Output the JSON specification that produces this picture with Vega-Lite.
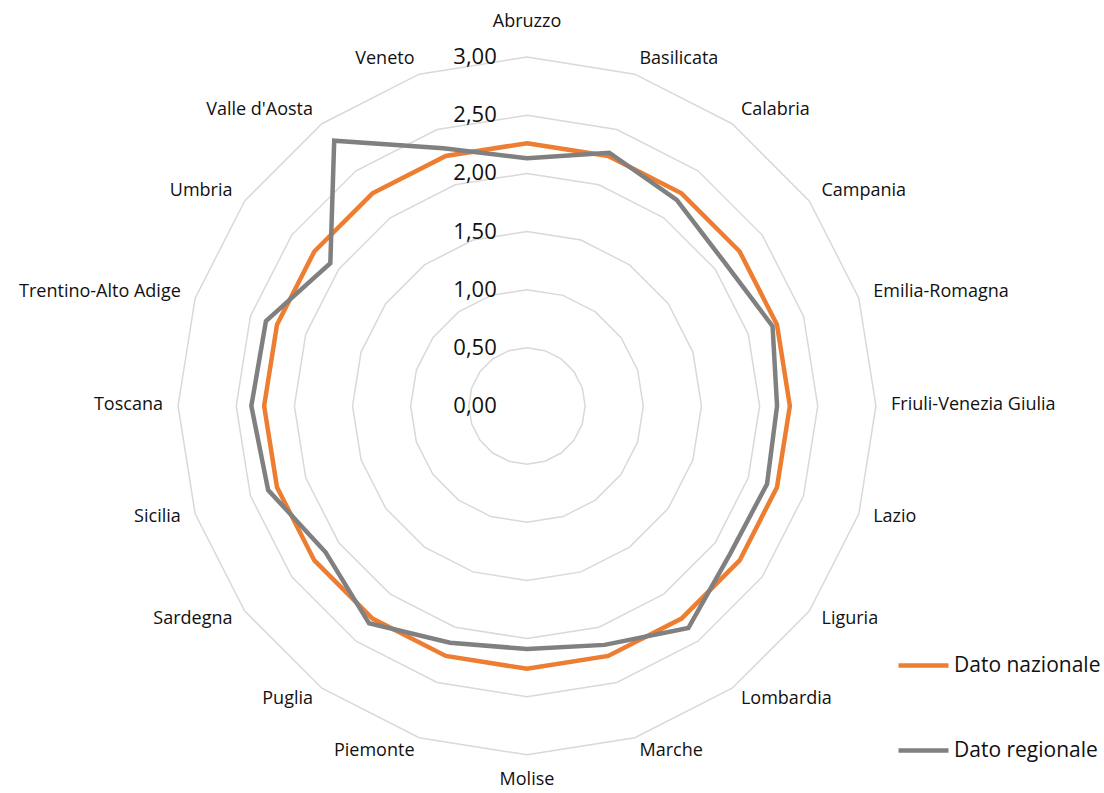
{
  "$schema": "https://vega.github.io/schema/vega-lite/v6.json",
  "width": 1104,
  "height": 793,
  "padding": 0,
  "autosize": "none",
  "background": "white",
  "config": {
    "view": {"stroke": null},
    "font": "Open Sans",
    "text": {"font": "Open Sans", "color": "#111111"},
    "legend": {
      "orient": "none",
      "legendX": 896,
      "legendY": 638,
      "symbolType": "stroke",
      "symbolSize": 2500,
      "symbolStrokeWidth": 4.5,
      "labelFontSize": 21,
      "labelFont": "Open Sans",
      "labelColor": "#111111",
      "labelOffset": 3,
      "rowPadding": 47,
      "padding": 0,
      "title": null
    }
  },
  "datasets": {
    "regioni": [
      {"regione": "Abruzzo", "i": 0, "Dato nazionale": 2.26, "Dato regionale": 2.13},
      {"regione": "Basilicata", "i": 1, "Dato nazionale": 2.26, "Dato regionale": 2.29},
      {"regione": "Calabria", "i": 2, "Dato nazionale": 2.26, "Dato regionale": 2.19},
      {"regione": "Campania", "i": 3, "Dato nazionale": 2.26, "Dato regionale": 2.10},
      {"regione": "Emilia-Romagna", "i": 4, "Dato nazionale": 2.26, "Dato regionale": 2.22},
      {"regione": "Friuli-Venezia Giulia", "i": 5, "Dato nazionale": 2.26, "Dato regionale": 2.15},
      {"regione": "Lazio", "i": 6, "Dato nazionale": 2.26, "Dato regionale": 2.17},
      {"regione": "Liguria", "i": 7, "Dato nazionale": 2.26, "Dato regionale": 2.16},
      {"regione": "Lombardia", "i": 8, "Dato nazionale": 2.26, "Dato regionale": 2.36},
      {"regione": "Marche", "i": 9, "Dato nazionale": 2.26, "Dato regionale": 2.16},
      {"regione": "Molise", "i": 10, "Dato nazionale": 2.26, "Dato regionale": 2.09},
      {"regione": "Piemonte", "i": 11, "Dato nazionale": 2.26, "Dato regionale": 2.14},
      {"regione": "Puglia", "i": 12, "Dato nazionale": 2.26, "Dato regionale": 2.31},
      {"regione": "Sardegna", "i": 13, "Dato nazionale": 2.26, "Dato regionale": 2.14},
      {"regione": "Sicilia", "i": 14, "Dato nazionale": 2.26, "Dato regionale": 2.34},
      {"regione": "Toscana", "i": 15, "Dato nazionale": 2.26, "Dato regionale": 2.37},
      {"regione": "Trentino-Alto Adige", "i": 16, "Dato nazionale": 2.26, "Dato regionale": 2.36},
      {"regione": "Umbria", "i": 17, "Dato nazionale": 2.26, "Dato regionale": 2.09},
      {"regione": "Valle d'Aosta", "i": 18, "Dato nazionale": 2.26, "Dato regionale": 2.82},
      {"regione": "Veneto", "i": 19, "Dato nazionale": 2.26, "Dato regionale": 2.33}
    ],
    "livelli": [
      {"livello": 0, "etichetta": "0,00"},
      {"livello": 0.5, "etichetta": "0,50"},
      {"livello": 1, "etichetta": "1,00"},
      {"livello": 1.5, "etichetta": "1,50"},
      {"livello": 2, "etichetta": "2,00"},
      {"livello": 2.5, "etichetta": "2,50"},
      {"livello": 3, "etichetta": "3,00"}
    ]
  },
  "layer": [
    {
      "data": {"name": "regioni"},
      "transform": [
        {"calculate": "[0.5, 1, 1.5, 2, 2.5, 3]", "as": "livello"},
        {"flatten": ["livello"]},
        {"calculate": "datum.livello * sin(datum.i * PI / 10)", "as": "gx"},
        {"calculate": "datum.livello * cos(datum.i * PI / 10)", "as": "gy"}
      ],
      "mark": {"type": "line", "interpolate": "linear-closed", "color": "#D9D9D9", "strokeWidth": 1.5},
      "encoding": {
        "x": {"field": "gx", "type": "quantitative", "scale": {"domain": [-4.531, 4.961], "nice": false, "zero": false}, "axis": null},
        "y": {"field": "gy", "type": "quantitative", "scale": {"domain": [-3.328, 3.491], "nice": false, "zero": false}, "axis": null},
        "detail": {"field": "livello", "type": "nominal"},
        "order": {"field": "i", "type": "quantitative"}
      }
    },
    {
      "data": {"name": "livelli"},
      "transform": [
        {"calculate": "-0.26", "as": "lx"}
      ],
      "mark": {"type": "text", "align": "right", "baseline": "middle", "fontSize": 22, "color": "#111111"},
      "encoding": {
        "x": {"field": "lx", "type": "quantitative", "scale": {"domain": [-4.531, 4.961], "nice": false, "zero": false}, "axis": null},
        "y": {"field": "livello", "type": "quantitative", "scale": {"domain": [-3.328, 3.491], "nice": false, "zero": false}, "axis": null},
        "text": {"field": "etichetta", "type": "nominal"}
      }
    },
    {
      "data": {"name": "regioni"},
      "transform": [
        {"fold": ["Dato nazionale", "Dato regionale"], "as": ["serie", "valore"]},
        {"calculate": "datum.valore * sin(datum.i * PI / 10)", "as": "px"},
        {"calculate": "datum.valore * cos(datum.i * PI / 10)", "as": "py"}
      ],
      "mark": {"type": "line", "interpolate": "linear-closed", "strokeWidth": 4.5, "strokeJoin": "miter"},
      "encoding": {
        "x": {"field": "px", "type": "quantitative", "scale": {"domain": [-4.531, 4.961], "nice": false, "zero": false}, "axis": null},
        "y": {"field": "py", "type": "quantitative", "scale": {"domain": [-3.328, 3.491], "nice": false, "zero": false}, "axis": null},
        "color": {"field": "serie", "type": "nominal", "scale": {"domain": ["Dato nazionale", "Dato regionale"], "range": ["#ED7D31", "#808080"]}},
        "order": {"field": "i", "type": "quantitative"}
      }
    },
    {
      "data": {"name": "regioni"},
      "transform": [
        {"filter": "datum.i >= 1 && datum.i <= 9"},
        {"calculate": "3.13 * sin(datum.i * PI / 10)", "as": "tx"},
        {"calculate": "3.13 * cos(datum.i * PI / 10)", "as": "ty"}
      ],
      "mark": {"type": "text", "align": "left", "baseline": "middle", "fontSize": 18, "dy": -1},
      "encoding": {
        "x": {"field": "tx", "type": "quantitative", "scale": {"domain": [-4.531, 4.961], "nice": false, "zero": false}, "axis": null},
        "y": {"field": "ty", "type": "quantitative", "scale": {"domain": [-3.328, 3.491], "nice": false, "zero": false}, "axis": null},
        "text": {"field": "regione", "type": "nominal"}
      }
    },
    {
      "data": {"name": "regioni"},
      "transform": [
        {"filter": "datum.i >= 11"},
        {"calculate": "3.13 * sin(datum.i * PI / 10)", "as": "tx"},
        {"calculate": "3.13 * cos(datum.i * PI / 10)", "as": "ty"}
      ],
      "mark": {"type": "text", "align": "right", "baseline": "middle", "fontSize": 18, "dy": -1},
      "encoding": {
        "x": {"field": "tx", "type": "quantitative", "scale": {"domain": [-4.531, 4.961], "nice": false, "zero": false}, "axis": null},
        "y": {"field": "ty", "type": "quantitative", "scale": {"domain": [-3.328, 3.491], "nice": false, "zero": false}, "axis": null},
        "text": {"field": "regione", "type": "nominal"}
      }
    },
    {
      "data": {"name": "regioni"},
      "transform": [
        {"filter": "datum.i == 0 || datum.i == 10"},
        {"calculate": "datum.i == 0 ? 3.305 : -3.22", "as": "ty"},
        {"calculate": "0", "as": "tx"}
      ],
      "mark": {"type": "text", "align": "center", "baseline": "middle", "fontSize": 18},
      "encoding": {
        "x": {"field": "tx", "type": "quantitative", "scale": {"domain": [-4.531, 4.961], "nice": false, "zero": false}, "axis": null},
        "y": {"field": "ty", "type": "quantitative", "scale": {"domain": [-3.328, 3.491], "nice": false, "zero": false}, "axis": null},
        "text": {"field": "regione", "type": "nominal"}
      }
    }
  ]
}
